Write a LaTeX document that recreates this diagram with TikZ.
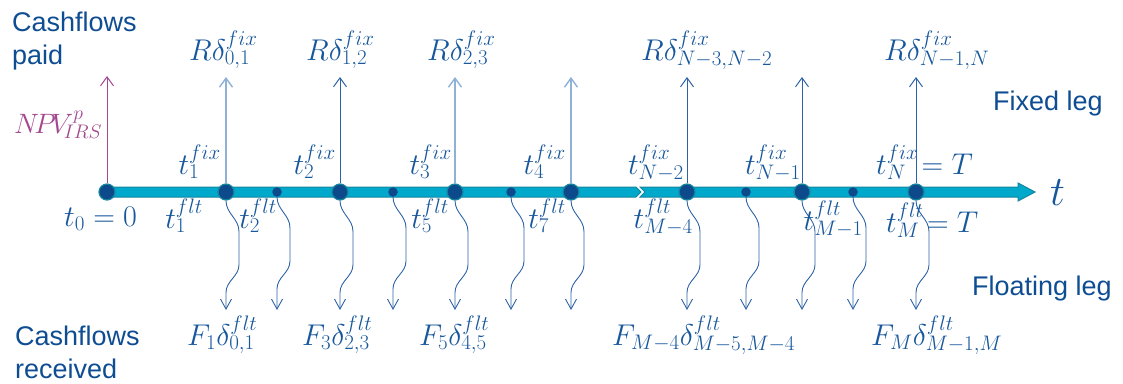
\RequirePackage{fix-cm}
\documentclass[tikz,border=0pt]{standalone}
\usepackage{fontspec}
\newfontfamily\lab{Liberation Sans}
\usetikzlibrary{arrows.meta}
\definecolor{txtblue}{HTML}{0F4D92}
\definecolor{mathblue}{HTML}{17579C}
\definecolor{barfill}{HTML}{00A9CC}
\definecolor{barline}{HTML}{15869F}
\definecolor{dotblue}{HTML}{0D4A8C}
\definecolor{darkarr}{HTML}{2D63A6}
\definecolor{lightarr}{HTML}{8FB1D6}
\definecolor{npvpurple}{HTML}{A3478F}
\tikzset{
  sanslab/.style={font=\lab\fontsize{27}{33}\selectfont, text=txtblue, align=left, inner sep=0pt},
  mlab/.style={font=\fontsize{30}{34}\selectfont, text=mathblue, inner sep=0pt},
  bigdot/.style={circle, fill=dotblue, draw=barline, line width=1.2pt, minimum size=16pt, inner sep=0pt},
  smalldot/.style={circle, fill=dotblue, minimum size=9.5pt, inner sep=0pt},
  uparr/.style={-{Straight Barb[length=9pt,width=13pt]}, line width=1pt},
  wavy/.style={-{Straight Barb[length=10pt,width=11pt]}, line width=0.9pt, draw=darkarr},
  barstyle/.style={fill=barfill, draw=barline, line width=1pt, line join=miter}
}
\begin{document}
\begin{tikzpicture}[x=1pt,y=-1pt]
\useasboundingbox (0,0) rectangle (1123,383);
% timeline bar
\path[barstyle] (107,187) -- (636,187) -- (641,192) -- (636,197) -- (107,197) -- cycle;
\path[barstyle] (640,187) -- (1018,187) -- (1018,183) -- (1035,192) -- (1018,201) -- (1018,197) -- (640,197) -- (645,192) -- cycle;
% dots
\node[bigdot] (d0) at (107,192) {};
\node[bigdot] (f1) at (226,192) {};
\node[bigdot] (f2) at (340,192) {};
\node[bigdot] (f3) at (455,192) {};
\node[bigdot] (f4) at (571,192) {};
\node[bigdot] (f5) at (687,192) {};
\node[bigdot] (f6) at (802,192) {};
\node[bigdot] (f7) at (916,192) {};
\node[smalldot] (s1) at (277,192) {};
\node[smalldot] (s2) at (393,192) {};
\node[smalldot] (s3) at (511,192) {};
\node[smalldot] (s4) at (746,192) {};
\node[smalldot] (s5) at (853,192) {};
% up arrow tips
\coordinate (unpv) at (107,76);
\coordinate (u1) at (226,77);
\coordinate (u2) at (340,77);
\coordinate (u3) at (455,77);
\coordinate (u4) at (571,77);
\coordinate (u5) at (687,77);
\coordinate (u6) at (802,77);
\coordinate (u7) at (916,77);
\draw[uparr, npvpurple] (d0.north) -- (unpv);
\draw[uparr, lightarr, line width=1.4pt] (f1.north) -- (u1);
\draw[uparr, darkarr] (f2.north) -- (u2);
\draw[uparr, lightarr, line width=1.4pt] (f3.north) -- (u3);
\draw[uparr, lightarr, line width=1.4pt] (f4.north) -- (u4);
\draw[uparr, darkarr] (f5.north) -- (u5);
\draw[uparr, darkarr] (f6.north) -- (u6);
\draw[uparr, darkarr] (f7.north) -- (u7);
% wavy down arrows
\foreach \n/\x in {f1/226,s1/277,f2/340,s2/393,f3/455,s3/511,f4/571,f5/687,s4/746,f6/802,s5/853,f7/916}{
  \coordinate (w\n) at (\x,310);
  \draw[wavy] (\n.south) to[out=-90,in=90] ++(13,31) -- ++(0,33) to[out=-90,in=90] ++(-13,28) -- (w\n);
}
% sans labels
\node[sanslab, anchor=north west] (paid) at (12,12) {Cashflows\\paid};
\node[sanslab, anchor=north west] (recv) at (15,326) {Cashflows\\received};
\node[sanslab, anchor=base west] (fixleg) at (993,110) {Fixed leg};
\node[sanslab, anchor=base west] (fltleg) at (972,295) {Floating leg};
% top payments
\node[mlab, anchor=base west] (r01) at (189,60) {$R\delta^{fix}_{0,1}$};
\node[mlab, anchor=base west] (r12) at (306,60) {$R\delta^{fix}_{1,2}$};
\node[mlab, anchor=base west] (r23) at (427,60) {$R\delta^{fix}_{2,3}$};
\node[mlab, anchor=base west] (rn3) at (641,60) {$R\delta^{fix}_{N-3,N-2}$};
\node[mlab, anchor=base west] (rn1) at (884,60) {$R\delta^{fix}_{N-1,N}$};
\node[mlab, font=\fontsize{28}{32}\selectfont, anchor=base west, text=npvpurple] (npv) at (14,133) {$N\!P\!V^{p}_{\!IRS}$};
% fixed dates
\node[mlab, anchor=base east] (tf1) at (221,174) {$t^{fix}_1$};
\node[mlab, anchor=base east] (tf2) at (336,174) {$t^{fix}_2$};
\node[mlab, anchor=base east] (tf3) at (452,174) {$t^{fix}_3$};
\node[mlab, anchor=base east] (tf4) at (566,174) {$t^{fix}_4$};
\node[mlab, anchor=base east] (tfn2) at (684,174) {$t^{fix}_{N-2}$};
\node[mlab, anchor=base east] (tfn1) at (801,174) {$t^{fix}_{N-1}$};
\node[mlab, anchor=base west] (tfn) at (876,174) {$t^{fix}_{N}\! = T$};
% floating dates
\node[mlab, anchor=base west] (t0) at (64,226) {$t_0 = 0$};
\node[mlab, anchor=base east] (tl1) at (203,228) {$t^{flt}_1$};
\node[mlab, anchor=base east] (tl2) at (277,228) {$t^{flt}_2$};
\node[mlab, anchor=base east] (tl5) at (449,228) {$t^{flt}_5$};
\node[mlab, anchor=base east] (tl7) at (566,228) {$t^{flt}_7$};
\node[mlab, anchor=base east] (tlm4) at (693,228) {$t^{flt}_{M-4}$};
\node[mlab, anchor=base east] (tlm1) at (863,230) {$t^{flt}_{M-1}$};
\node[mlab, anchor=base west] (tlm) at (886,232) {$t^{flt}_{M}\! = T$};
% bottom payments
\node[mlab, anchor=base west] (p1) at (187,345) {$F_1\delta^{flt}_{0,1}$};
\node[mlab, anchor=base west] (p3) at (302,345) {$F_3\delta^{flt}_{2,3}$};
\node[mlab, anchor=base west] (p5) at (419,345) {$F_5\delta^{flt}_{4,5}$};
\node[mlab, anchor=base west] (pm4) at (612,345) {$F_{M-4}\delta^{flt}_{M-5,M-4}$};
\node[mlab, anchor=base west] (pm) at (871,345) {$F_M\delta^{flt}_{M-1,M}$};
% axis label
\node[mlab, font=\fontsize{42}{42}\selectfont, anchor=base west] (tax) at (1050,205) {$t$};
\end{tikzpicture}
\end{document}
